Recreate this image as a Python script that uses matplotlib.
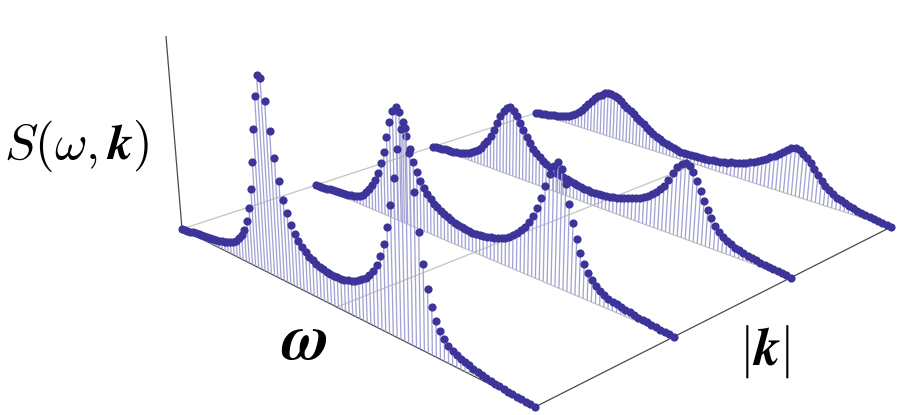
"""S(omega, k) spectra drawn as four stem rows on a tilted floor"""

import matplotlib
matplotlib.use("Agg")
from matplotlib import pyplot as plt
from matplotlib.collections import LineCollection
import numpy as np

plt.rcParams['mathtext.fontset'] = 'cm'

# heights at the 100 omega samples, one list per |k| row, front row first
row1 = [.002, .004, .007, .009, .012, .015, .018, .021, .024, .027,
        .030, .032, .035, .038, .042, .046, .052, .060, .070,
        .085, .105, .130, .162, .219, .291, .396, .534, .700, .866,
        .967, .958, .860, .725, .599, .495, .410, .353, .305, .269,
        .240, .217, .200, .187, .176, .168, .161, .156, .153, .151, .150,
        .151, .153, .156, .161, .168, .176, .187, .200, .217, .238,
        .265, .300, .352, .416, .499, .605, .736, .868, .958, .969,
        .870, .706, .538, .402, .300, .224, .171, .134, .105, .083,
        .066, .058, .050, .044, .039, .034, .030, .025, .021, .018,
        .015, .012, .010, .008, .007, .005, .004, .003, .002, .001]
row2 = [.001, .003, .005, .007, .009, .011, .013, .015, .017, .019,
        .021, .024, .028, .033, .040, .048, .060, .080, .104, .135,
        .171, .216, .275, .344, .428, .512, .578, .606, .586, .537,
        .472, .409, .350, .302, .263, .231, .207, .186, .171, .158,
        .147, .138, .130, .122, .115, .110, .106, .103, .101, .100,
        .101, .103, .106, .110, .114, .119, .125, .132, .142, .157,
        .173, .191, .212, .238, .268, .307, .354, .412, .476, .541,
        .586, .610, .584, .519, .431, .347, .276, .217, .171, .133,
        .107, .088, .072, .060, .052, .046, .041, .036, .032, .028,
        .024, .021, .018, .015, .012, .010, .008, .005, .003, .001]
row3 = [.001, .003, .006, .008, .010, .012, .015, .017, .020, .024,
        .029, .035, .043, .052, .064, .080, .100, .125, .152, .187,
        .230, .275, .320, .355, .380, .389, .373, .349, .318, .283,
        .251, .222, .198, .178, .162, .148, .136, .125, .116, .109,
        .103, .097, .093, .089, .085, .082, .078, .075, .073, .071,
        .071, .072, .073, .075, .079, .084, .089, .095, .101, .107,
        .115, .124, .133, .144, .157, .172, .192, .214, .241, .277,
        .320, .357, .381, .391, .386, .359, .319, .275, .232, .191,
        .157, .126, .101, .082, .068, .058, .050, .043, .037, .032,
        .027, .023, .019, .016, .013, .010, .008, .005, .003, .001]
row4 = [.001, .003, .006, .010, .013, .017, .021, .025, .030, .035,
        .040, .048, .060, .075, .092, .110, .135, .160, .183, .205,
        .223, .240, .254, .264, .263, .256, .246, .235, .221, .207,
        .194, .179, .165, .152, .139, .125, .111, .099, .088, .079,
        .071, .064, .058, .053, .049, .046, .045, .045, .045, .045,
        .046, .047, .049, .051, .053, .056, .059, .063, .068, .075,
        .081, .087, .094, .101, .109, .117, .128, .142, .158, .173,
        .188, .203, .220, .238, .255, .264, .258, .245, .228, .206,
        .180, .155, .130, .110, .092, .077, .065, .056, .048, .041,
        .035, .030, .025, .020, .016, .012, .009, .006, .003, .001]
rows = [row1, row2, row3, row4]
kValues = [0, 1/3, 2/3, 1]

DOT = "#3c3498"
STEM = "#a4a4d4"
FLOOR = "#c4c4c4"
AXIS = "#4a4a4a"


def make_camera():
    """Camera matrix from the floor corners and the lean of the vertical axis"""
    corners = {(0, 0): (182, 229), (1, 0): (535, 407), (1, 1): (891, 227), (0, 1): (536, 113)}
    a, b = [], []
    for (u, v), (x, y) in corners.items():
        a.append([u, v, 1, 0, 0, 0, -u * x, -v * x])
        a.append([0, 0, 0, u, v, 1, -u * y, -v * y])
        b += [x, y]
    h = np.append(np.linalg.solve(np.array(a, float), np.array(b, float)), 1).reshape(3, 3)
    vanish = np.array([470, 3696, 1.0])
    scale = -193 / (vanish[1] - 36)
    return np.column_stack([h[:, 0], h[:, 1], scale * vanish, h[:, 2]])


camera = make_camera()


def project(u, v, z):
    """Floor position u, v and height z to figure coordinates"""
    u, v, z = np.broadcast_arrays(u, v, z)
    p = camera @ np.vstack([u, v, z, np.ones(u.shape)])
    return p[0] / p[2], p[1] / p[2]


def segment(u, v, z, **style):
    x, y = project(np.array(u), np.array(v), np.array(z))
    ax.plot(x, y, solid_capstyle="butt", **style)


fig = plt.figure(figsize=(9, 4.15), dpi=100)
ax = fig.add_axes([0, 0, 1, 1])
ax.set_xlim(0, 900)
ax.set_ylim(415, 0)
ax.axis("off")

# Floor lines
for k in kValues[1:]:
    segment([0, 1], [k, k], [0, 0], color=FLOOR, lw=0.9)
segment([0, 0], [0, 1], [0, 0], color=FLOOR, lw=0.9)
segment([0.5, 0.5], [0, 1], [0, 0], color=FLOOR, lw=0.9)
segment([1, 1], [0, 1.01], [0, 0], color=AXIS, lw=0.9)
segment([0, 1], [0, 0], [0, 0], color=AXIS, lw=0.9)
segment([0, 0], [0, 0], [0, 1], color=AXIS, lw=0.9)

# Rows from back to front so the nearer dots sit on top
omega = np.linspace(0, 1, 100)
for k, row in reversed(list(zip(kValues, rows))):
    height = np.array(row)
    x0, y0 = project(omega, k, 0)
    x1, y1 = project(omega, k, height)
    stems = np.stack([np.column_stack([x0, y0]), np.column_stack([x1, y1])], axis=1)
    ax.add_collection(LineCollection(stems, colors=STEM, linewidths=0.95))
    ax.plot(x1, y1, "o", color=DOT, ms=5.9, mew=0)

# Labels
ax.text(77, 146, r"$S(\omega,\boldsymbol{k})$", fontsize=36, ha="center", va="center")
ax.text(304, 341, r"$\boldsymbol{\omega}$", fontsize=47, ha="center", va="center")
ax.text(765, 351, r"$|\boldsymbol{k}|$", fontsize=38, ha="center", va="center")

plt.savefig("out.png", dpi=100)
